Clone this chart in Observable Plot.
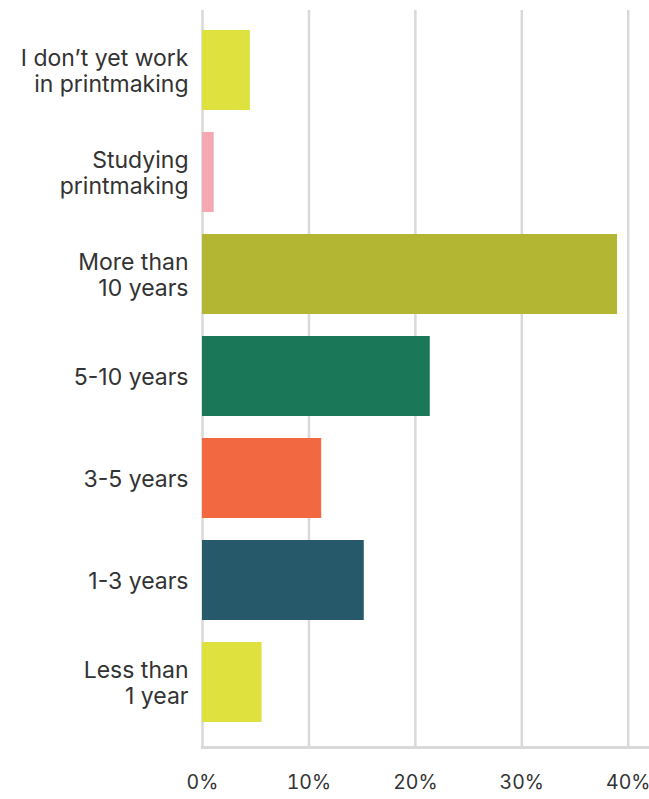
<!DOCTYPE html>
<html>
<head>
<meta charset="utf-8">
<script src="https://cdn.jsdelivr.net/npm/d3@7"></script>
<script src="https://cdn.jsdelivr.net/npm/@observablehq/plot@0.6"></script>
<style>
  html, body { margin: 0; padding: 0; background: #fff; }
  #chart svg { display: block; }
</style>
</head>
<body>
<div id="chart"></div>
<script>
// Years of experience in printmaking (share of respondents, %)
const categories = [
  "I don\u2019t yet work\nin printmaking",
  "Studying\nprintmaking",
  "More than\n10 years",
  "5-10 years",
  "3-5 years",
  "1-3 years",
  "Less than\n1 year"
];
const values = [4.5, 1.1, 39.0, 21.4, 11.2, 15.2, 5.6];
const colors = ["#dfe13f", "#f5a8b1", "#b3b633", "#1a7859", "#f26841", "#265a6a", "#dfe13f"];
const xTicks = [0, 10, 20, 30, 40];

const data = categories.map((c, i) => ({category: c, value: values[i], color: colors[i]}));

const grid = "#d9d9d9";

const chart = Plot.plot({
  width: 649,
  height: 799,
  marginLeft: 202,
  marginRight: 0,
  marginTop: 4,
  marginBottom: 52,
  style: {fontFamily: "Inter, sans-serif", color: "#333", background: "#fff"},
  x: {domain: [0, 42], ticks: xTicks},
  y: {domain: categories, paddingInner: 0.216, paddingOuter: 0.216},
  marks: [
    Plot.ruleX(xTicks, {stroke: grid, strokeWidth: 2.5, insetTop: 6}),
    Plot.barX(data, {y: "category", x: "value", fill: "color"}),
    Plot.frame({anchor: "bottom", stroke: grid, strokeWidth: 3}),
    Plot.axisX({
      ticks: xTicks,
      tickSize: 0,
      tickPadding: 28,
      fontSize: 19.5,
      tickFormat: d => d + "%",
      label: null
    }),
    Plot.axisY({
      tickSize: 0,
      tickPadding: 14,
      fontSize: 23,
      lineHeight: 1.15,
      label: null
    })
  ]
});

document.getElementById("chart").appendChild(chart);
</script>
</body>
</html>
